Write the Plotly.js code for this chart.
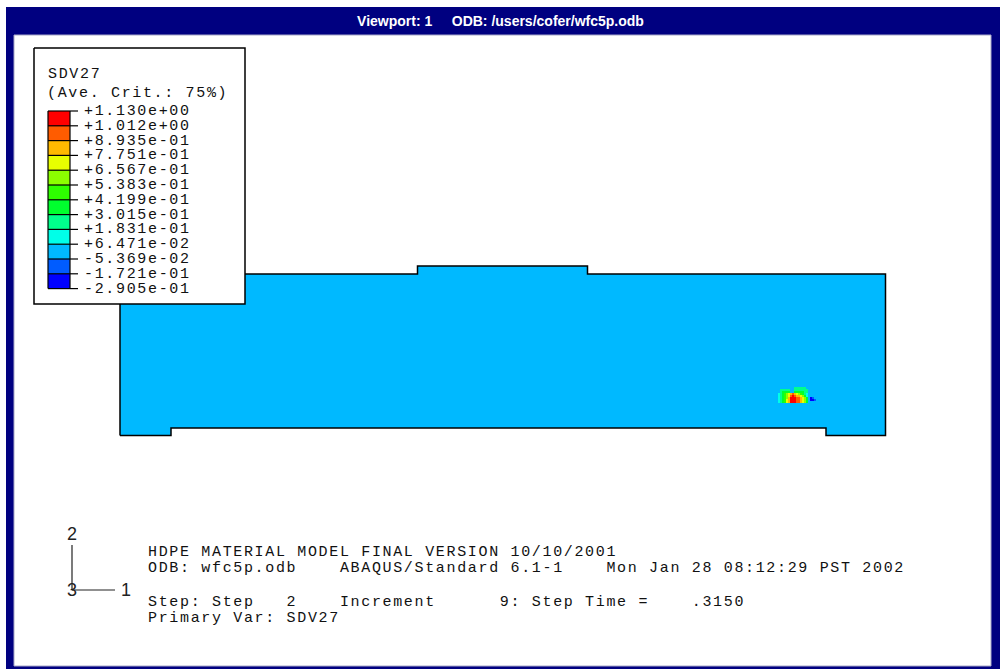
<!DOCTYPE html>
<html>
<head>
<meta charset="utf-8">
<script src="https://cdn.plot.ly/plotly-3.0.1.min.js"></script>
<style>
html,body{margin:0;padding:0;background:#fff;overflow:hidden}
#chart{width:1000px;height:669px}
.annotation-text{letter-spacing:1.66px;white-space:pre}
</style>
</head>
<body>
<div id="chart"></div>
<script>
// Contour levels, top to bottom, as printed in the legend
const levelLabels = ["+1.130e+00","+1.012e+00","+8.935e-01","+7.751e-01","+6.567e-01","+5.383e-01","+4.199e-01","+3.015e-01","+1.831e-01","+6.471e-02","-5.369e-02","-1.721e-01","-2.905e-01"];
const levelValues = [1.130,1.012,0.8935,0.7751,0.6567,0.5383,0.4199,0.3015,0.1831,0.06471,-0.05369,-0.1721,-0.2905];
// Band colours, lowest band first
const bandColors = ["#0000ff","#005cff","#00b9ff","#00ffe8","#00ff8c","#00ff2e","#2eff00","#8cff00","#e8ff00","#ffb900","#ff5c00","#ff0000"];
// Model outline (picture units)
const outlineX = [120,120,417.5,417.5,587.5,587.5,885.5,885.5,826,826,171,171,120];
const outlineY = [435.5,274,274,266,266,274,274,435.5,435.5,428,428,435.5,435.5];
const modelBand = 2;
// Hot spot: band number per mesh cell
const hotspotBands = [
 [null,null,null,null,null,null,null,null,4,4,4,4,4,4,null,null,null,null,null],
 [null,4,4,4,4,4,null,null,4,4,4,4,4,4,4,null,null,null,null],
 [null,4,5,5,5,5,null,null,5,5,5,5,5,4,4,null,null,null,null],
 [3,4,5,6,7,8,9,10,9,8,7,6,5,4,3,null,null,null,null],
 [3,4,5,6,7,8,10,11,10,9,9,8,7,5,3,null,null,null,null],
 [3,4,5,6,7,9,11,11,11,10,10,9,8,7,5,null,0,1,null],
 [3,4,5,6,8,9,11,11,11,10,10,9,8,7,5,null,0,0,1],
 [3,4,5,6,8,9,11,11,11,10,10,9,8,7,5,null,null,null,null]
];
const hotspotX0 = 778, hotspotY0 = 387, cell = 2;
const titleText = "Viewport: 1     ODB: /users/cofer/wfc5p.odb";
const legendHead = ["SDV27","(Ave. Crit.: 75%)"];
const infoLines = [
 "HDPE MATERIAL MODEL FINAL VERSION 10/10/2001",
 "ODB: wfc5p.odb    ABAQUS/Standard 6.1-1    Mon Jan 28 08:12:29 PST 2002",
 "Step: Step   2    Increment      9: Step Time =    .3150",
 "Primary Var: SDV27"
];
const infoY = [552.5,568.5,602.5,618.5];

const MONO = '"Liberation Mono", monospace';
const SANS = '"Liberation Sans", sans-serif';
const mid = i => (levelValues[12-i] + levelValues[11-i]) / 2;
const span = levelValues[0]-levelValues[12];
const colorscale = [];
bandColors.forEach((c,i)=>{
  colorscale.push([(levelValues[12-i]-levelValues[12])/span,c],[(levelValues[11-i]-levelValues[12])/span,c]);
});
const heat = {type:'heatmap',showscale:false,hoverinfo:'skip',colorscale,zmin:levelValues[12],zmax:levelValues[0],zsmooth:false,xaxis:'x2',yaxis:'y2'};

const swTop = 111, swStep = 14.8, swL = 48, swR = 70;
const traces = [
 {type:'scatter',mode:'lines',x:outlineX,y:outlineY,fill:'toself',fillcolor:bandColors[modelBand],
  line:{color:'#000',width:1.5},hoverinfo:'skip',showlegend:false},
 {type:'scatter',mode:'lines',x:[34,245,245,34,34],y:[48,48,304,304,48],fill:'toself',fillcolor:'#fff',
  line:{color:'#000',width:1.5},hoverinfo:'skip',showlegend:false},
 Object.assign({},heat,{z:hotspotBands.map(r=>r.map(v=>v===null?null:mid(v))),x0:hotspotX0+cell/2,dx:cell,y0:hotspotY0+cell/2,dy:cell}),
 Object.assign({},heat,{z:bandColors.map((c,i)=>[mid(11-i)]),x0:(swL+swR)/2,dx:swR-swL,y0:swTop+swStep/2,dy:swStep})
];

const rect=(x0,y0,x1,y1,fill,line,w,layer)=>({type:'rect',xref:'x',yref:'y',x0,y0,x1,y1,fillcolor:fill,line:{color:line||fill,width:w||0},layer:layer||'below'});
const seg=(x0,y0,x1,y1,color,w)=>({type:'line',xref:'x',yref:'y',x0,y0,x1,y1,line:{color,width:w},layer:'above'});

const shapes=[
 rect(6,7,1000,669,'#000080'),
 rect(14,35,991,666,'#ffffff','#a8a8c8',1),
 seg(72,545,72,590,'#222',1.2), seg(72,590,115,590,'#222',1.2),
 seg(swL,swTop,swL,swTop+12*swStep,'#000',1.2), seg(swR,swTop,swR,swTop+12*swStep,'#000',1.2)
];
levelLabels.forEach((l,i)=>shapes.push(seg(swL,swTop+i*swStep,78,swTop+i*swStep,'#000',1.2)));

const ann=(x,y,text,size,family,color)=>({xref:'x',yref:'y',x,y,text,showarrow:false,xanchor:'left',yanchor:'middle',align:'left',
  font:{family:family||MONO,size:size||15,color:color||'#111'},borderpad:0,borderwidth:0});
const annotations=[];
annotations.push(ann(48,74.5,legendHead[0]), ann(47,93,legendHead[1]));
levelLabels.forEach((l,i)=>annotations.push(ann(84,111.5+i*swStep,l)));
infoLines.forEach((l,i)=>annotations.push(ann(148,infoY[i],l)));
annotations.push(ann(67,534,"2",18,SANS,'#222'),ann(67,590,"3",18,SANS,'#222'),ann(121,590,"1",18,SANS,'#222'));

const layout={
 width:1000,height:669,margin:{l:0,r:0,t:0,b:0,pad:0},paper_bgcolor:'#fff',plot_bgcolor:'#fff',showlegend:false,
 title:{text:titleText,x:0.5005,xanchor:'center',xref:'paper',y:1-21/669,yref:'paper',yanchor:'middle',
        font:{family:SANS,size:14,color:'#fff',weight:700}},
 xaxis:{range:[0,1000],visible:false,fixedrange:true},
 yaxis:{range:[669,0],visible:false,fixedrange:true},
 xaxis2:{range:[0,1000],visible:false,fixedrange:true,overlaying:'x',anchor:'y2'},
 yaxis2:{range:[669,0],visible:false,fixedrange:true,overlaying:'y',anchor:'x2'},
 shapes,annotations
};
Plotly.newPlot('chart',traces,layout,{displayModeBar:false,staticPlot:true});
</script>
</body>
</html>
